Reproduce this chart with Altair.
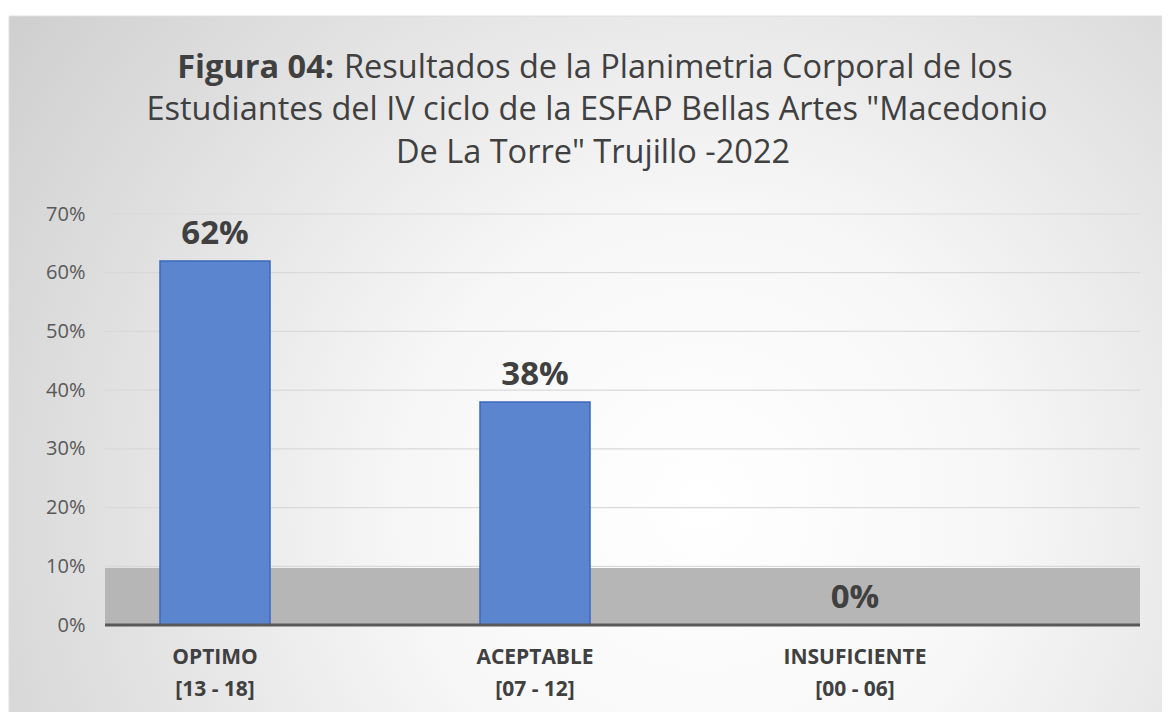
import altair as alt
import pandas as pd

# ---- data ----
categories = ["OPTIMO", "ACEPTABLE", "INSUFICIENTE"]
ranges = ["[13 - 18]", "[07 - 12]", "[00 - 06]"]
values = [0.62, 0.38, 0.0]
y_ticks = [0, 0.1, 0.2, 0.3, 0.4, 0.5, 0.6, 0.7]

title_bold = "Figura 04:"
title_line1 = "Resultados de la Planimetria Corporal de los"
title_line2 = "Estudiantes del IV ciclo de la ESFAP Bellas Artes \"Macedonio"
title_line3 = "De La Torre\" Trujillo -2022"

df = pd.DataFrame({
    "label": [f"{c}|{r}" for c, r in zip(categories, ranges)],
    "value": values,
})
grid_df = pd.DataFrame({"tick": y_ticks[1:]})

W, H = 1035, 411
FONT = "Open Sans"
TFS = 32.5
one = pd.DataFrame({"a": [0]})

xscale = alt.Scale(range=[-50, 910], paddingInner=0, paddingOuter=0)
yscale = alt.Scale(domain=[0, 0.7], nice=False)

# background panel with radial gradient
bg = alt.Chart(one).mark_rect(
    fill=alt.RadialGradient(
        gradient="radial",
        stops=[
            alt.GradientStop(color="#ffffff", offset=0),
            alt.GradientStop(color="#f7f7f7", offset=0.3),
            alt.GradientStop(color="#c5c5c5", offset=1),
        ],
        x1=0.6, y1=0.62, r1=0, x2=0.6, y2=0.62, r2=0.85,
    ),
    stroke="#dedede", strokeWidth=1,
).encode(
    x=alt.value(-96), x2=alt.value(W + 25), y=alt.value(-198), y2=alt.value(H + 95)
)

# horizontal gridlines
grid = alt.Chart(grid_df).mark_rule(color="#d9d9d9", strokeWidth=1.2).encode(
    y=alt.Y("tick:Q", scale=yscale)
)

# floor
floor = alt.Chart(one).mark_rect(color="#b6b6b6").encode(
    x=alt.value(0), x2=alt.value(W), y=alt.datum(0), y2=alt.datum(0.097)
)

base = alt.Chart(df)

bars = base.mark_bar(size=110, fill="#5b86cf", stroke="#3c68ba", strokeWidth=1.5).encode(
    x=alt.X("label:N", sort=None, scale=xscale,
            axis=alt.Axis(title=None, labelAngle=0, domain=False, ticks=False,
                          labelExpr="split(datum.label, '|')",
                          labelFont=FONT, labelFontSize=21, labelFontWeight="bold",
                          labelColor="#404040", labelPadding=21, labelLineHeight=32,
                          grid=False, zindex=1)),
    y=alt.Y("value:Q", scale=yscale,
            axis=alt.Axis(title=None, values=y_ticks, format=".0%", domain=False,
                          ticks=False, labelFont=FONT, labelFontSize=20,
                          labelColor="#595959", labelPadding=20,
                          grid=False, zindex=1)),
)

labels = base.mark_text(font=FONT, fontSize=33, fontWeight="bold", color="#404040",
                        baseline="bottom", dy=-10).encode(
    x=alt.X("label:N", sort=None, scale=xscale),
    y=alt.Y("value:Q", scale=yscale),
    text=alt.Text("value:Q", format=".0%"),
)

baseline_rule = alt.Chart(one).mark_rule(color="#595959", strokeWidth=3).encode(
    y=alt.datum(0)
)

tb = alt.Chart(one).mark_text(font=FONT, fontSize=TFS, fontWeight="bold", color="#404040",
                              align="right", baseline="middle").encode(
    x=alt.value(229), y=alt.value(-146), text=alt.value(title_bold))
t1 = alt.Chart(one).mark_text(font=FONT, fontSize=TFS, color="#404040",
                              align="left", baseline="middle").encode(
    x=alt.value(239), y=alt.value(-146), text=alt.value(title_line1))
t2 = alt.Chart(one).mark_text(font=FONT, fontSize=TFS, color="#404040",
                              align="center", baseline="middle").encode(
    x=alt.value(492), y=alt.value(-104), text=alt.value(title_line2))
t3 = alt.Chart(one).mark_text(font=FONT, fontSize=TFS, color="#404040",
                              align="center", baseline="middle").encode(
    x=alt.value(488), y=alt.value(-61), text=alt.value(title_line3))

chart = alt.layer(bg, grid, floor, bars, baseline_rule, labels, tb, t1, t2, t3).properties(
    width=W, height=H,
    autosize=alt.AutoSizeParams(type="none"),
    padding={"left": 97, "top": 206, "right": 22, "bottom": 87},
    background="white",
).configure_view(stroke=None)

chart.save("out.html", embed_options={"renderer": "svg", "actions": False})
